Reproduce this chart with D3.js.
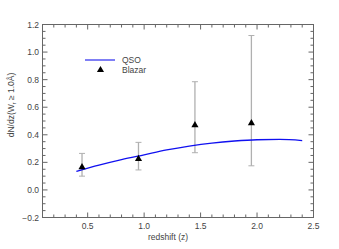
<!DOCTYPE html>
<html lang="en">
<head>
<meta charset="utf-8">
<title>dN/dz vs redshift</title>
<script src="https://d3js.org/d3.v7.min.js"></script>
<style>
body { margin: 0; background: #fff; }
svg text { font-family: "Liberation Sans", "DejaVu Sans", sans-serif; fill: #444; }
</style>
</head>
<body>
<svg width="339" height="249"></svg>
<script>
// blazar measurements
var blazarZ = [0.45, 0.95, 1.45, 1.95];
var blazarN = [0.165, 0.225, 0.47, 0.485];
var blazarLo = [0.10, 0.145, 0.27, 0.175];
var blazarHi = [0.265, 0.345, 0.785, 1.12];

// QSO curve
var qsoZ = [0.4, 0.6, 0.8, 1.0, 1.2, 1.4, 1.6, 1.8, 2.0, 2.2, 2.4];
var qsoN = [0.135, 0.18, 0.22, 0.255, 0.29, 0.318, 0.34, 0.355, 0.364, 0.366, 0.358];

var xTicks = [0.5, 1.0, 1.5, 2.0, 2.5];
var yTicks = [-0.2, 0.0, 0.2, 0.4, 0.6, 0.8, 1.0, 1.2];

var svg = d3.select("svg"),
    pLeft = 42.5, pRight = 313.5, pTop = 24.5, pBottom = 217.5;

var x = d3.scaleLinear().domain([0.1, 2.5]).range([pLeft, pRight]);
var y = d3.scaleLinear().domain([-0.2, 1.2]).range([pBottom, pTop]);

var axisColor = "#666";

// minor ticks
var xMinor = d3.range(2, 25).map(function(i) { return i / 10; });
var yMinor = d3.range(-3, 24).map(function(i) { return i / 20; });

var g = svg.append("g");

// bottom / top ticks
xMinor.forEach(function(v) {
  var major = Math.abs(v * 2 - Math.round(v * 2)) < 1e-6;
  var len = major ? 5 : 3;
  g.append("line").attr("x1", x(v)).attr("x2", x(v))
    .attr("y1", pBottom).attr("y2", pBottom - len).attr("stroke", axisColor);
  g.append("line").attr("x1", x(v)).attr("x2", x(v))
    .attr("y1", pTop).attr("y2", pTop + len).attr("stroke", axisColor);
});
// left / right ticks
yMinor.forEach(function(v) {
  var major = Math.abs(v * 5 - Math.round(v * 5)) < 1e-6;
  var len = major ? 5 : 3;
  g.append("line").attr("y1", y(v)).attr("y2", y(v))
    .attr("x1", pLeft).attr("x2", pLeft + len).attr("stroke", axisColor);
  g.append("line").attr("y1", y(v)).attr("y2", y(v))
    .attr("x1", pRight).attr("x2", pRight - len).attr("stroke", axisColor);
});

g.append("rect")
  .attr("x", pLeft).attr("y", pTop)
  .attr("width", pRight - pLeft).attr("height", pBottom - pTop)
  .attr("fill", "none").attr("stroke", axisColor);

// tick labels
g.selectAll(".xl").data(xTicks).enter().append("text")
  .attr("x", function(d) { return x(d); })
  .attr("y", 228.5)
  .attr("text-anchor", "middle")
  .attr("font-size", "8.5px")
  .text(function(d) { return d.toFixed(1); });

g.selectAll(".yl").data(yTicks).enter().append("text")
  .attr("x", 39)
  .attr("y", function(d) { return y(d) + 3; })
  .attr("text-anchor", "end")
  .attr("font-size", "8.5px")
  .text(function(d) { return d < 0 ? "\u2212" + (-d).toFixed(1) : d.toFixed(1); });

// axis titles
svg.append("text")
  .attr("x", 168).attr("y", 240)
  .attr("text-anchor", "middle")
  .attr("font-size", "8.5px")
  .text("redshift (z)");

var yt = svg.append("text")
  .attr("transform", "translate(14,105) rotate(-90)")
  .attr("text-anchor", "middle")
  .attr("font-size", "8.5px");
yt.append("tspan").text("dN/dz(W");
yt.append("tspan").attr("font-size", "5.5px").attr("dy", 2).text("r");
yt.append("tspan").attr("dy", -2).text(" \u2265 1.0\u00c5)");

// error bars
var bz = blazarZ.map(function(z, i) {
  return { z: z, n: blazarN[i], lo: blazarLo[i], hi: blazarHi[i] };
});
var eb = g.selectAll(".eb").data(bz).enter().append("g");
eb.append("line")
  .attr("x1", function(d) { return x(d.z); }).attr("x2", function(d) { return x(d.z); })
  .attr("y1", function(d) { return y(d.lo); }).attr("y2", function(d) { return y(d.hi); })
  .attr("stroke", "#b0b0b0").attr("stroke-width", 1.3);
["lo", "hi"].forEach(function(k) {
  eb.append("line")
    .attr("x1", function(d) { return x(d.z) - 3; }).attr("x2", function(d) { return x(d.z) + 3; })
    .attr("y1", function(d) { return y(d[k]); }).attr("y2", function(d) { return y(d[k]); })
    .attr("stroke", "#b0b0b0");
});

// QSO curve
var line = d3.line()
  .x(function(d, i) { return x(qsoZ[i]); })
  .y(function(d) { return y(d); })
  .curve(d3.curveMonotoneX);
g.append("path").datum(qsoN)
  .attr("d", line)
  .attr("fill", "none")
  .attr("stroke", "#1010f0")
  .attr("stroke-width", 1.3);

// blazar points
var tri = d3.symbol().type(d3.symbolTriangle).size(22);
g.selectAll(".pt").data(bz).enter().append("path")
  .attr("d", tri)
  .attr("transform", function(d) { return "translate(" + x(d.z) + "," + y(d.n) + ")"; })
  .attr("fill", "#000");

// legend
g.append("line").attr("x1", 85).attr("x2", 115).attr("y1", 60).attr("y2", 60)
  .attr("stroke", "#3a3af0").attr("stroke-width", 1.3);
g.append("path").attr("d", tri).attr("transform", "translate(100.5,70)").attr("fill", "#000");
g.append("text").attr("x", 122).attr("y", 63).attr("font-size", "8.5px").text("QSO");
g.append("text").attr("x", 122).attr("y", 73).attr("font-size", "8.5px").text("Blazar");
</script>
</body>
</html>
